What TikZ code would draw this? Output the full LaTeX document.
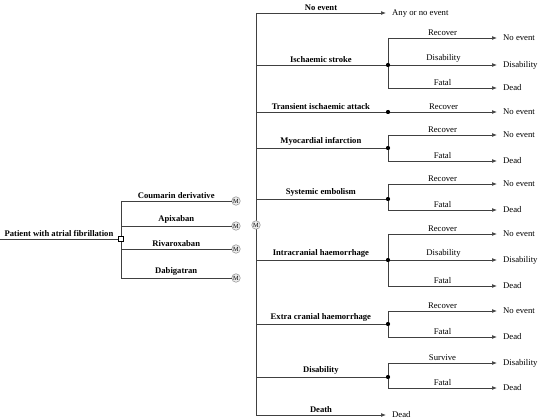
\documentclass[tikz,border=0pt]{standalone}
\usepackage{fontspec}
\setmainfont{Liberation Serif}
\usetikzlibrary{arrows.meta}
\begin{document}
\begin{tikzpicture}[x=1pt,y=-1pt, font=\fontsize{8.7}{10}\selectfont,
 ln/.style={draw=black!75, line width=0.65pt},
 arr/.style={ln, -{Latex[length=5pt,width=3.8pt]}},
 chance/.style={circle, fill=black, inner sep=0pt, minimum size=4pt},
 mk/.style={circle, draw=black!45, fill=black!7, line width=0.5pt, inner sep=0pt, minimum size=8.5pt, font=\fontsize{6.3}{7}\selectfont},
 dec/.style={rectangle, draw=black, fill=white, line width=0.6pt, inner sep=0pt, minimum size=5.5pt},
 ev/.style={font=\fontsize{8.6}{10}\selectfont\bfseries, above, inner sep=2pt},
 br/.style={above, inner sep=2.5pt},
 outc/.style={anchor=west, inner xsep=6pt, inner ysep=0pt, text height=1.5ex, text depth=0.25ex}]
\useasboundingbox (0,0) rectangle (542,420);

% ---------- decision part ----------
\coordinate (root) at (0,239);
\coordinate (t1) at (121,201);
\coordinate (t2) at (121,226);
\coordinate (t3) at (121,249);
\coordinate (t4) at (121,278);
\node[mk] (m1) at (236,201) {M};
\node[mk] (m2) at (236,226) {M};
\node[mk] (m3) at (236,249) {M};
\node[mk] (m4) at (236,278) {M};
\draw[ln] (t1) -- (t4);
\draw[ln] (t1) -- (m1) node[midway, ev] {Coumarin derivative};
\draw[ln] (t2) -- (m2) node[midway, ev] {Apixaban};
\draw[ln] (t3) -- (m3) node[midway, ev] {Rivaroxaban};
\draw[ln] (t4) -- (m4) node[midway, ev] {Dabigatran};
\node[dec] (d) at (121,239) {};
\draw[ln] (root) -- (d) node[midway, ev] {Patient with atrial fibrillation};

% ---------- Markov spine ----------
\coordinate (s1) at (256,13);
\coordinate (s2) at (256,65);
\coordinate (s3) at (256,112);
\coordinate (s4) at (256,148);
\coordinate (s5) at (256,199);
\coordinate (s6) at (256,260);
\coordinate (s7) at (256,324);
\coordinate (s8) at (256,377);
\coordinate (s9) at (256,415);
\draw[ln] (s1) -- (s9);
\node[mk] (mc) at (256,225) {M};

% ---------- chance nodes ----------
\node[chance] (c2) at (388,65) {};
\node[chance] (c3) at (388,112) {};
\node[chance] (c4) at (388,148) {};
\node[chance] (c5) at (388,199) {};
\node[chance] (c6) at (388,260) {};
\node[chance] (c7) at (388,324) {};
\node[chance] (c8) at (388,377) {};

% ---------- events ----------
\node[outc] (o1) at (386,13) {Any or no event};
\draw[arr] (s1) -- (o1.west) node[midway, ev] {No event};
\draw[ln] (s2) -- (c2) node[midway, ev] {Ischaemic stroke};
\draw[ln] (s3) -- (c3) node[midway, ev] {Transient ischaemic attack};
\draw[ln] (s4) -- (c4) node[midway, ev] {Myocardial infarction};
\draw[ln] (s5) -- (c5) node[midway, ev] {Systemic embolism};
\draw[ln] (s6) -- (c6) node[midway, ev] {Intracranial haemorrhage};
\draw[ln] (s7) -- (c7) node[midway, ev] {Extra cranial haemorrhage};
\draw[ln] (s8) -- (c8) node[midway, ev] {Disability};
\node[outc] (o9) at (386,415) {Dead};
\draw[arr] (s9) -- (o9.west) node[midway, ev] {Death};

% ---------- sub-branches ----------
% Ischaemic stroke
\coordinate (c2a) at (388,38); \coordinate (c2c) at (388,88);
\node[outc] (o2a) at (497,38) {No event};
\node[outc] (o2b) at (497,65) {Disability};
\node[outc] (o2c) at (497,88) {Dead};
\draw[ln] (c2a) -- (c2c);
\draw[arr] (c2a) -- (o2a.west) node[midway, br] {Recover};
\draw[arr] (c2) -- (o2b.west) node[midway, br] {Disability};
\draw[arr] (c2c) -- (o2c.west) node[midway, br] {Fatal};
% TIA
\node[outc] (o3a) at (497,112) {No event};
\draw[arr] (c3) -- (o3a.west) node[midway, br] {Recover};
% MI
\coordinate (c4a) at (388,135); \coordinate (c4b) at (388,161);
\node[outc] (o4a) at (497,135) {No event};
\node[outc] (o4b) at (497,161) {Dead};
\draw[ln] (c4a) -- (c4b);
\draw[arr] (c4a) -- (o4a.west) node[midway, br] {Recover};
\draw[arr] (c4b) -- (o4b.west) node[midway, br] {Fatal};
% Systemic embolism
\coordinate (c5a) at (388,184); \coordinate (c5b) at (388,210);
\node[outc] (o5a) at (497,184) {No event};
\node[outc] (o5b) at (497,210) {Dead};
\draw[ln] (c5a) -- (c5b);
\draw[arr] (c5a) -- (o5a.west) node[midway, br] {Recover};
\draw[arr] (c5b) -- (o5b.west) node[midway, br] {Fatal};
% Intracranial haemorrhage
\coordinate (c6a) at (388,234); \coordinate (c6c) at (388,286);
\node[outc] (o6a) at (497,234) {No event};
\node[outc] (o6b) at (497,260) {Disability};
\node[outc] (o6c) at (497,286) {Dead};
\draw[ln] (c6a) -- (c6c);
\draw[arr] (c6a) -- (o6a.west) node[midway, br] {Recover};
\draw[arr] (c6) -- (o6b.west) node[midway, br] {Disability};
\draw[arr] (c6c) -- (o6c.west) node[midway, br] {Fatal};
% Extra cranial haemorrhage
\coordinate (c7a) at (388,311); \coordinate (c7b) at (388,337);
\node[outc] (o7a) at (497,311) {No event};
\node[outc] (o7b) at (497,337) {Dead};
\draw[ln] (c7a) -- (c7b);
\draw[arr] (c7a) -- (o7a.west) node[midway, br] {Recover};
\draw[arr] (c7b) -- (o7b.west) node[midway, br] {Fatal};
% Disability
\coordinate (c8a) at (388,363); \coordinate (c8b) at (388,388);
\node[outc] (o8a) at (497,363) {Disability};
\node[outc] (o8b) at (497,388) {Dead};
\draw[ln] (c8a) -- (c8b);
\draw[arr] (c8a) -- (o8a.west) node[midway, br] {Survive};
\draw[arr] (c8b) -- (o8b.west) node[midway, br] {Fatal};

% redraw chance dots on top
\foreach \c in {c2,c3,c4,c5,c6,c7,c8} \fill (\c) circle (2pt);
\end{tikzpicture}
\end{document}
